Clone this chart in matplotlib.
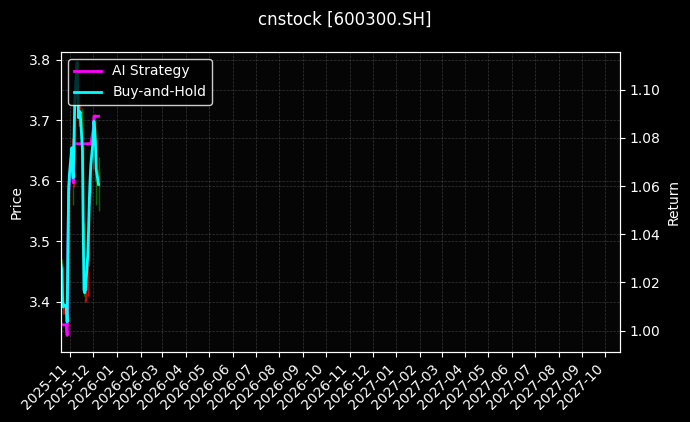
import matplotlib
matplotlib.use("Agg")
import matplotlib.pyplot as plt
import matplotlib.dates as mdates
import pandas as pd

plt.style.use("dark_background")

# trading days shown in the chart
dates = pd.to_datetime([
    "2025-10-20", "2025-10-21", "2025-10-22", "2025-10-23", "2025-10-24",
    "2025-10-27", "2025-10-28", "2025-10-29", "2025-10-30", "2025-10-31",
    "2025-11-03", "2025-11-04", "2025-11-05", "2025-11-06", "2025-11-07",
    "2025-11-10", "2025-11-11", "2025-11-12", "2025-11-13", "2025-11-14",
    "2025-11-17", "2025-11-18", "2025-11-19", "2025-11-20", "2025-11-21",
    "2025-11-24", "2025-11-25", "2025-11-26", "2025-11-27", "2025-11-28",
    "2025-12-01", "2025-12-02", "2025-12-03", "2025-12-04", "2025-12-05",
    "2025-12-08",
])

open_px = [3.44, 3.46, 3.45, 3.40, 3.39, 3.40, 3.39, 3.37, 3.49, 3.58,
           3.61, 3.65, 3.62, 3.60, 3.67, 3.73, 3.79, 3.74, 3.70, 3.71,
           3.71, 3.65, 3.52, 3.42, 3.41, 3.42, 3.48, 3.52, 3.57, 3.60,
           3.63, 3.67, 3.70, 3.68, 3.66, 3.62]
high_px = [3.47, 3.47, 3.46, 3.41, 3.40, 3.41, 3.40, 3.50, 3.60, 3.63,
           3.67, 3.66, 3.63, 3.68, 3.75, 3.80, 3.80, 3.75, 3.72, 3.73,
           3.72, 3.66, 3.53, 3.43, 3.43, 3.49, 3.53, 3.58, 3.62, 3.64,
           3.68, 3.71, 3.71, 3.69, 3.67, 3.64]
low_px = [3.43, 3.44, 3.39, 3.38, 3.38, 3.38, 3.35, 3.36, 3.48, 3.56,
          3.60, 3.60, 3.56, 3.59, 3.66, 3.72, 3.73, 3.69, 3.69, 3.70,
          3.64, 3.50, 3.41, 3.40, 3.40, 3.41, 3.46, 3.51, 3.56, 3.58,
          3.62, 3.66, 3.67, 3.60, 3.56, 3.55]
close_px = [3.461, 3.453, 3.403, 3.392, 3.395, 3.393, 3.367, 3.486, 3.585, 3.610,
            3.655, 3.618, 3.605, 3.668, 3.734, 3.795, 3.742, 3.704, 3.709, 3.714,
            3.651, 3.519, 3.420, 3.415, 3.420, 3.478, 3.519, 3.569, 3.602, 3.626,
            3.668, 3.698, 3.684, 3.660, 3.618, 3.593]

# cumulative returns (right axis)
ai_strategy = [1.0024, 1.0024, 1.0024, 1.0024, 1.0024, 1.0024, 0.9980, 1.0315, 1.0565, 1.0627,
               1.0739, 1.0648, 1.0614, 1.0772, 1.0776, 1.0776, 1.0776, 1.0776, 1.0776, 1.0776,
               1.0776, 1.0776, 1.0776, 1.0776, 1.0776, 1.0776, 1.0776, 1.0776, 1.0776, 1.0776,
               1.0834, 1.0890, 1.0890, 1.0890, 1.0890, 1.0890]
buy_hold = [1.0273, 1.0252, 1.0127, 1.0098, 1.0106, 1.0102, 1.0036, 1.0335, 1.0585, 1.0647,
            1.0759, 1.0668, 1.0634, 1.0792, 1.0959, 1.1113, 1.0980, 1.0884, 1.0897, 1.0909,
            1.0751, 1.0419, 1.0169, 1.0157, 1.0169, 1.0315, 1.0419, 1.0544, 1.0627, 1.0690,
            1.0794, 1.0869, 1.0835, 1.0773, 1.0669, 1.0607]

fig = plt.figure(figsize=(6.9, 4.22), dpi=100)
fig.patch.set_facecolor("black")
ax = fig.add_axes([61 / 690, 70 / 422, 559 / 690, 300 / 422])
ax.set_facecolor("#050505")

# candlesticks
for d, o, h, l, c in zip(dates, open_px, high_px, low_px, close_px):
    col = "red" if c >= o else "green"
    ax.vlines(d, l, h, color=col, linewidth=1, alpha=0.8)
    ax.bar(d, max(abs(c - o), 0.002), bottom=min(o, c),
           width=1.6, color=col, alpha=0.6)

ax.set_ylim(3.317, 3.813)
ax.set_ylabel("Price")
ax.grid(True, linestyle="--", linewidth=0.5, color="gray", alpha=0.4)

ax2 = ax.twinx()
ax2.plot(dates, ai_strategy, color="magenta", linewidth=2, label="AI Strategy")
ax2.plot(dates, buy_hold, color="cyan", linewidth=2, label="Buy-and-Hold")
ax2.set_ylim(0.9911, 1.1157)
ax2.set_yticks([1.00, 1.02, 1.04, 1.06, 1.08, 1.10])
ax2.set_ylabel("Return")
ax2.grid(True, linestyle="--", linewidth=0.5, color="gray", alpha=0.4)

ax.set_xlim(pd.Timestamp("2025-10-20"), pd.Timestamp("2027-10-20"))
ax.xaxis.set_major_locator(mdates.MonthLocator())
ax.xaxis.set_major_formatter(mdates.DateFormatter("%Y-%m"))
plt.setp(ax.get_xticklabels(), rotation=45, ha="right")

for a in (ax, ax2):
    for s in a.spines.values():
        s.set_color("white")

ax2.legend(loc="upper left", facecolor="black", edgecolor="white")

fig.suptitle("cnstock [600300.SH]", fontsize=12, y=0.975)
fig.savefig("out.png", dpi=100, facecolor=fig.get_facecolor())
